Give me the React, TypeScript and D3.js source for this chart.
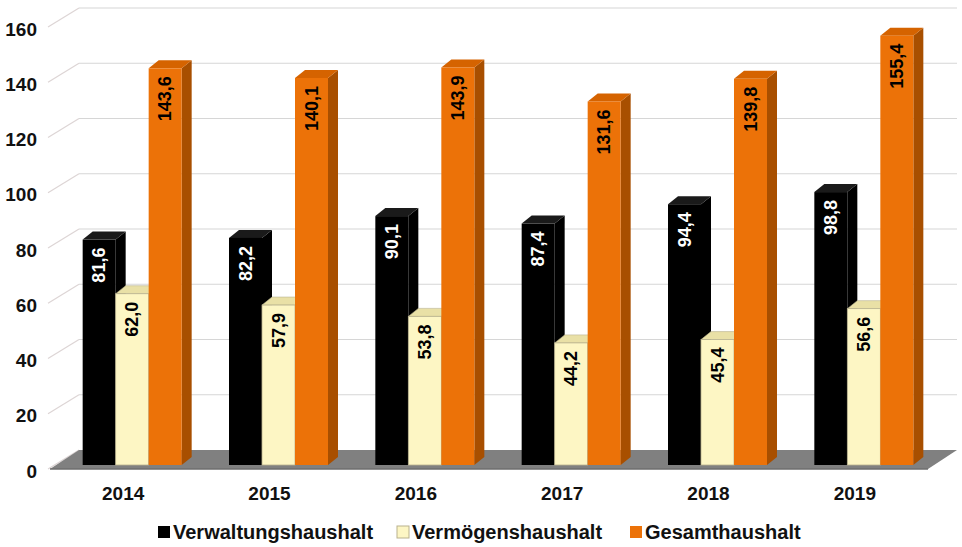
import * as d3 from "d3";

const years = ["2014", "2015", "2016", "2017", "2018", "2019"];
const verwaltung = [81.6, 82.2, 90.1, 87.4, 94.4, 98.8];
const vermoegen = [62.0, 57.9, 53.8, 44.2, 45.4, 56.6];
const gesamt = [143.6, 140.1, 143.9, 131.6, 139.8, 155.4];
const yTicks = [0, 20, 40, 60, 80, 100, 120, 140, 160];
const seriesNames = ["Verwaltungshaushalt", "Vermögenshaushalt", "Gesamthaushalt"];

const palette = [
  { front: "#000000", top: "#1a1a1a", side: "#000000", stroke: "none", text: "#ffffff" },
  { front: "#fdf6c4", top: "#e9e0a6", side: "#d8cf96", stroke: "#b9b28e", text: "#000000" },
  { front: "#ec7208", top: "#d56300", side: "#a84f00", stroke: "none", text: "#000000" },
];

const fmt = (v: number) => d3.format(".1f")(v).replace(".", ",");

export default function App() {
  const width = 962;
  const height = 547;
  const font = "'Liberation Sans', Arial, Helvetica, sans-serif";

  // front plane of the 3D box
  const x0 = 50;
  const x1 = 928;
  const depth = { dx: 29, dy: -19 };
  const y = d3.scaleLinear().domain([0, 160]).range([469, 27]);
  const x = d3.scaleBand().domain(years).range([x0, x1]);

  // bars sit a little behind the front plane
  const barOff = { dx: 9, dy: -4 };
  const barDepth = { dx: 10, dy: -8 };
  const groupW = 99;
  const inner = d3.scaleBand().domain(["0", "1", "2"]).range([0, groupW]);

  const series = [verwaltung, vermoegen, gesamt];

  const floorY = y(0);
  const floor = [
    [x0, floorY],
    [x1, floorY],
    [x1 + depth.dx, floorY + depth.dy],
    [x0 + depth.dx + 0, floorY + depth.dy],
  ];

  const legendX = [158, 397, 630];

  return (
    <svg
      width={width}
      height={height}
      viewBox={`0 0 ${width} ${height}`}
      style={{ position: "fixed", left: 0, top: 0, background: "#fff" }}
    >
      {/* back wall and side wall grid */}
      {yTicks.map((t) => (
        <g key={`grid-${t}`}>
          <line
            x1={x0 - 2}
            y1={y(t)}
            x2={x0 + depth.dx}
            y2={y(t) + depth.dy}
            stroke="#ddd5d5"
            strokeWidth={1.2}
          />
          {t > 0 && (
            <line
              x1={x0 + depth.dx}
              y1={y(t) + depth.dy}
              x2={x1 + depth.dx}
              y2={y(t) + depth.dy}
              stroke="#d6d6d6"
              strokeWidth={1.2}
            />
          )}
          <text
            x={37}
            y={y(t) + 2}
            textAnchor="end"
            dominantBaseline="central"
            fontFamily={font}
            fontWeight="bold"
            fontSize={19}
            fill="#111"
          >
            {t}
          </text>
        </g>
      ))}

      {/* floor */}
      <polygon points={floor.map((p) => p.join(",")).join(" ")} fill="#808080" />
      <line x1={x0} y1={floorY} x2={x1} y2={floorY} stroke="#6e6e6e" strokeWidth={1.5} />

      {/* bars */}
      {years.map((yr, i) => {
        const gx = (x(yr) as number) + (x.bandwidth() - groupW) / 2 + barOff.dx;
        return (
          <g key={yr}>
            {series.map((s, si) => {
              const v = s[i];
              const c = palette[si];
              const bx0 = gx + (inner(String(si)) as number);
              const bx1 = bx0 + inner.bandwidth();
              const yt = y(v) + barOff.dy;
              const yb = y(0) + barOff.dy;
              const { dx, dy } = barDepth;
              const side = `${bx1},${yt} ${bx1 + dx},${yt + dy} ${bx1 + dx},${yb + dy} ${bx1},${yb}`;
              const top = `${bx0},${yt} ${bx0 + dx},${yt + dy} ${bx1 + dx},${yt + dy} ${bx1},${yt}`;
              const cx = (bx0 + bx1) / 2;
              return (
                <g key={si}>
                  <polygon points={side} fill={c.side} />
                  <polygon points={top} fill={c.top} stroke={c.stroke} strokeWidth={0.6} />
                  <rect
                    x={bx0}
                    y={yt}
                    width={bx1 - bx0}
                    height={yb - yt}
                    fill={c.front}
                    stroke={c.stroke}
                    strokeWidth={0.8}
                  />
                  <text
                    transform={`translate(${cx}, ${yt + 8}) rotate(-90)`}
                    textAnchor="end"
                    dominantBaseline="central"
                    fontFamily={font}
                    fontWeight="bold"
                    fontSize={18}
                    fill={c.text}
                  >
                    {fmt(v)}
                  </text>
                </g>
              );
            })}
          </g>
        );
      })}

      {/* category labels */}
      {years.map((yr) => (
        <text
          key={`lab-${yr}`}
          x={(x(yr) as number) + x.bandwidth() / 2}
          y={500}
          textAnchor="middle"
          fontFamily={font}
          fontWeight="bold"
          fontSize={19}
          fill="#111"
        >
          {yr}
        </text>
      ))}

      {/* legend */}
      {seriesNames.map((name, si) => (
        <g key={name} transform={`translate(${legendX[si]}, 532)`}>
          <rect
            x={0}
            y={-6}
            width={12}
            height={12}
            fill={palette[si].front}
            stroke={palette[si].stroke}
            strokeWidth={1}
          />
          <text
            x={15}
            y={0}
            dominantBaseline="central"
            fontFamily={font}
            fontWeight="bold"
            fontSize={20}
            fill="#111"
          >
            {name}
          </text>
        </g>
      ))}
    </svg>
  );
}
